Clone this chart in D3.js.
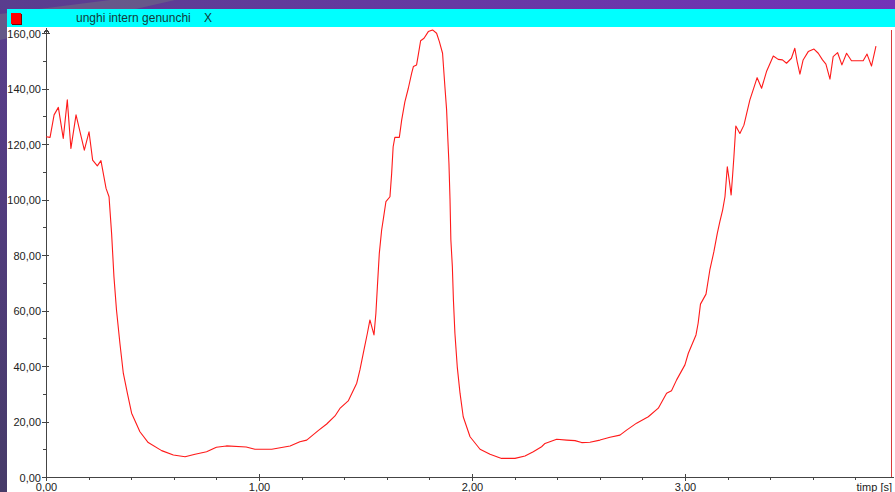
<!DOCTYPE html>
<html>
<head>
<meta charset="utf-8">
<script src="https://cdn.jsdelivr.net/npm/d3@7"></script>
<style>
  html, body { margin: 0; padding: 0; background: #55408a; overflow: hidden; }
  svg { display: block; font-family: "Liberation Sans", Arial, sans-serif; }
  .axis text { font-size: 11px; fill: #222; }
  .axis path, .axis line { stroke: #444; shape-rendering: crispEdges; }
</style>
</head>
<body>
<div id="chart"></div>
<script>
// chart data
const chartTitle = "unghi intern genunchi";
const xLabel = "timp [s]";
const timeS = [
  0.000, 0.019, 0.038, 0.058, 0.081, 0.100, 0.117, 0.141, 0.180, 0.202,
  0.219, 0.241, 0.258, 0.282, 0.296, 0.308, 0.319, 0.331, 0.347, 0.363,
  0.382, 0.402, 0.441, 0.480, 0.543, 0.598, 0.653, 0.700, 0.754, 0.800,
  0.847, 0.940, 0.981, 1.060, 1.146, 1.192, 1.224, 1.278, 1.318, 1.357,
  1.380, 1.419, 1.459, 1.474, 1.493, 1.509, 1.521, 1.540, 1.549, 1.556,
  1.565, 1.576, 1.584, 1.596, 1.615, 1.623, 1.630, 1.638, 1.659, 1.670,
  1.685, 1.701, 1.717, 1.725, 1.740, 1.748, 1.759, 1.775, 1.795, 1.815,
  1.834, 1.847, 1.862, 1.873, 1.881, 1.886, 1.892, 1.897, 1.901, 1.908,
  1.913, 1.920, 1.931, 1.944, 1.959, 1.991, 2.038, 2.085, 2.139, 2.202,
  2.249, 2.288, 2.327, 2.343, 2.398, 2.445, 2.484, 2.515, 2.554, 2.601,
  2.648, 2.695, 2.726, 2.773, 2.828, 2.875, 2.914, 2.937, 2.961, 3.000,
  3.016, 3.052, 3.062, 3.073, 3.099, 3.117, 3.136, 3.152, 3.164, 3.177,
  3.188, 3.199, 3.208, 3.217, 3.224, 3.230, 3.239, 3.258, 3.277, 3.290,
  3.305, 3.325, 3.339, 3.360, 3.383, 3.415, 3.438, 3.458, 3.477, 3.500,
  3.516, 3.527, 3.540, 3.555, 3.579, 3.606, 3.626, 3.646, 3.662, 3.681,
  3.696, 3.717, 3.737, 3.759, 3.782, 3.806, 3.837, 3.855, 3.876, 3.897
];
const angle = [
  122.6, 122.4, 130.5, 133.2, 122.0, 135.9, 118.4, 130.5, 117.8, 124.4,
  114.2, 112.1, 114.0, 104.0, 101.0, 87.8, 72.2, 60.2, 48.2, 37.4,
  30.2, 23.0, 16.3, 12.4, 9.5, 7.9, 7.3, 8.2, 9.1, 10.7,
  11.2, 10.8, 10.0, 10.0, 11.2, 12.7, 13.3, 16.7, 19.1, 22.0,
  24.7, 27.4, 33.8, 38.6, 45.8, 51.8, 56.6, 51.2, 59.0, 68.6,
  80.6, 89.0, 93.0, 99.2, 101.0, 109.4, 119.0, 122.4, 122.4, 128.6,
  135.2, 140.0, 145.5, 147.9, 148.5, 152.1, 157.2, 158.1, 160.5, 161.1,
  159.9, 156.9, 152.7, 140.6, 132.3, 123.2, 113.0, 100.0, 85.4, 75.8,
  63.8, 51.8, 39.7, 30.2, 21.7, 14.5, 10.0, 8.2, 6.7, 6.7,
  7.6, 9.1, 10.9, 12.1, 13.6, 13.3, 13.1, 12.4, 12.5, 13.3,
  14.3, 15.1, 16.9, 19.4, 21.7, 24.8, 30.2, 31.1, 35.0, 40.4,
  44.6, 51.2, 55.4, 62.3, 65.9, 74.6, 81.2, 87.8, 92.0, 96.2,
  101.0, 111.8, 107.0, 101.6, 108.8, 115.4, 126.5, 123.8, 126.8, 131.0,
  135.9, 140.6, 143.9, 140.1, 146.1, 151.7, 150.5, 150.3, 149.1, 150.9,
  154.5, 149.7, 145.2, 150.3, 153.3, 154.2, 152.7, 150.3, 148.8, 143.4,
  151.5, 152.9, 148.5, 152.7, 150.0, 150.0, 150.0, 152.4, 148.1, 155.3
];
const xMajorTicks = [0, 1, 2, 3];
const xMinorTicks = [0.2, 0.4, 0.6, 0.8, 1.2, 1.4, 1.6, 1.8, 2.2, 2.4, 2.6, 2.8, 3.2, 3.4, 3.6, 3.8];
const yMajorTicks = [0, 20, 40, 60, 80, 100, 120, 140, 160];
const yMinorTicks = [10, 30, 50, 70, 90, 110, 130, 150];
const cursorTime = 3.977;   // red marker at the right end of the time axis

const W = 895, H = 492;
const margin = { top: 33, right: 2, bottom: 15, left: 46 };

const svg = d3.select("#chart").append("svg")
  .attr("width", W)
  .attr("height", H);

// purple desktop background
const defs = svg.append("defs");
const bg = defs.append("linearGradient")
  .attr("id", "bg")
  .attr("x1", "0").attr("y1", "1").attr("x2", "1").attr("y2", "0");
bg.append("stop").attr("offset", "0").attr("stop-color", "#463b68");
bg.append("stop").attr("offset", "0.5").attr("stop-color", "#5a3d8e");
bg.append("stop").attr("offset", "1").attr("stop-color", "#7433b8");

svg.append("rect").attr("width", W).attr("height", H).attr("fill", "url(#bg)");
svg.append("path")
  .attr("d", "M0,14 L110,0 L175,0 L0,40 Z")
  .attr("fill", "#6c6486").attr("opacity", 0.7);

// window panel
svg.append("rect")
  .attr("x", 7).attr("y", 27).attr("width", W - 7).attr("height", H - 27)
  .attr("fill", "#fff");

// title bar
svg.append("rect")
  .attr("x", 7).attr("y", 9).attr("width", W - 7).attr("height", 18)
  .attr("fill", "#00ffff");
svg.append("rect")
  .attr("x", 12).attr("y", 14).attr("width", 10).attr("height", 11)
  .attr("fill", "#7a0000");
svg.append("rect")
  .attr("x", 11).attr("y", 13).attr("width", 10).attr("height", 11)
  .attr("fill", "#ff0000");
svg.append("text")
  .attr("x", 76).attr("y", 22)
  .attr("font-size", "12px").attr("fill", "#123c3c")
  .text(chartTitle);
svg.append("text")
  .attr("x", 204).attr("y", 22)
  .attr("font-size", "12px").attr("fill", "#123c3c")
  .text("X");

// scales
const x = d3.scaleLinear().domain([0, cursorTime]).range([margin.left, W - margin.right]);
const y = d3.scaleLinear().domain([0, 160]).range([H - margin.bottom, margin.top]);

const fmt = d => d3.format(".2f")(d).replace(".", ",");

// minor ticks
svg.append("g")
  .attr("class", "axis")
  .attr("transform", `translate(${margin.left},0)`)
  .call(d3.axisLeft(y).tickValues(yMinorTicks).tickSize(3).tickFormat(""))
  .call(g => g.select(".domain").remove());
svg.append("g")
  .attr("class", "axis")
  .attr("transform", `translate(0,${y(0)})`)
  .call(d3.axisBottom(x).tickValues(xMinorTicks).tickSize(3).tickFormat(""))
  .call(g => g.select(".domain").remove());

// y axis
const yAxis = svg.append("g")
  .attr("class", "axis")
  .attr("transform", `translate(${margin.left},0)`)
  .call(d3.axisLeft(y).tickValues(yMajorTicks).tickSize(4).tickPadding(1).tickSizeOuter(0).tickFormat(fmt));
yAxis.select(".domain").attr("d", `M0.5,${y(0)}V${y(160) - 4}`);
yAxis.selectAll(".tick line").attr("x1", 3).attr("x2", -4);
yAxis.selectAll(".tick text").attr("dy", "0.4em");
yAxis.append("path")
  .attr("d", `M-2.5,${y(160) + 1}L0.5,${y(160) - 4}L3.5,${y(160) + 1}`)
  .attr("fill", "none").attr("stroke", "#444");

// x axis
const xAxis = svg.append("g")
  .attr("class", "axis")
  .attr("transform", `translate(0,${y(0)})`)
  .call(d3.axisBottom(x).tickValues(xMajorTicks).tickSize(4).tickPadding(2).tickSizeOuter(0).tickFormat(fmt));
xAxis.selectAll(".tick line").attr("y1", -3).attr("y2", 4);
xAxis.append("text")
  .attr("x", W - 3).attr("y", 6)
  .attr("dy", "0.71em")
  .attr("text-anchor", "end")
  .text(xLabel);

// cursor marker
svg.append("line")
  .attr("x1", x(cursorTime) - 1.5).attr("x2", x(cursorTime) - 1.5)
  .attr("y1", y(160) - 3).attr("y2", y(0))
  .attr("stroke", "#d83a3a").attr("stroke-width", 1);

// data line
const points = timeS.map((t, i) => ({ t: t, v: angle[i] }));
const line = d3.line()
  .x(d => x(d.t))
  .y(d => y(d.v));

svg.append("path")
  .datum(points)
  .attr("d", line)
  .attr("fill", "none")
  .attr("stroke", "#ff1a1a")
  .attr("stroke-width", 1.1)
  .attr("stroke-linejoin", "round");
</script>
</body>
</html>
